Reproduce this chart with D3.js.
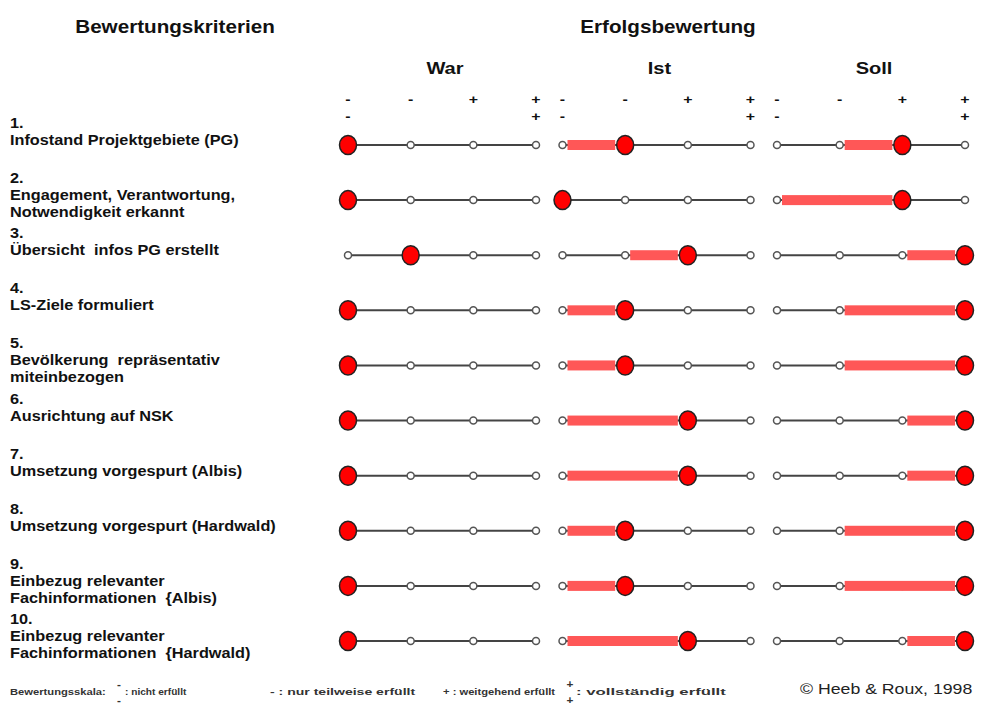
<!DOCTYPE html>
<html>
<head>
<meta charset="utf-8">
<script src="https://cdn.jsdelivr.net/npm/d3@7"></script>
<style>
  body { margin: 0; background: #fff; }
  text { font-family: "Liberation Sans", Arial, sans-serif; white-space: pre; }
</style>
</head>
<body>
<div id="chart"></div>
<script>
// criteria: number + one or two lines of label
const criteriaNumbers = ["1.", "2.", "3.", "4.", "5.", "6.", "7.", "8.", "9.", "10."];
const criteriaLabels = [
    ["Infostand Projektgebiete (PG)"],
    ["Engagement, Verantwortung,", "Notwendigkeit erkannt"],
    ["Übersicht  infos PG erstellt"],
    ["LS-Ziele formuliert"],
    ["Bevölkerung  repräsentativ", "miteinbezogen"],
    ["Ausrichtung auf NSK"],
    ["Umsetzung vorgespurt (Albis)"],
    ["Umsetzung vorgespurt (Hardwald)"],
    ["Einbezug relevanter", "Fachinformationen  {Albis)"],
    ["Einbezug relevanter", "Fachinformationen  {Hardwald)"]
];

// ratings on the 4-step scale (0 = nicht erfüllt ... 3 = vollständig erfüllt)
const phases = ["War", "Ist", "Soll"];
const warValues  = [0, 0, 1, 0, 0, 0, 0, 0, 0, 0];
const istValues  = [1, 0, 2, 1, 1, 2, 2, 1, 1, 2];
const sollValues = [2, 2, 3, 3, 3, 3, 3, 3, 3, 3];

// scale header marks
const scaleTopMarks    = ["-", "-", "+", "+"];
const scaleBottomMarks = ["-", "", "", "+"];

// legend
const legendTop    = ["-", "-", "+", "+"];
const legendBottom = ["-", "", "", "+"];
const legendText   = [": nicht erfüllt", ": nur teilweise erfüllt", ": weitgehend erfüllt", ": vollständig erfüllt"];

const W = 981, H = 707;
const STRETCH = 1.18; // the original lettering is wide

const svg = d3.select("#chart").append("svg")
    .attr("width", W)
    .attr("height", H);

// helper: text placed in a horizontally stretched group
function addText(parent, x, y, str, size, weight, anchor, fill) {
    const g = parent.append("g")
        .attr("transform", `translate(${x},${y}) scale(${STRETCH},1)`);
    g.append("text")
        .attr("x", 0)
        .attr("y", 0)
        .attr("dominant-baseline", "central")
        .attr("text-anchor", anchor || "start")
        .attr("font-size", size)
        .attr("font-weight", weight || "bold")
        .attr("fill", fill || "#111")
        .text(str);
    return g;
}

// Scales
const rowY = d3.scalePoint()
    .domain(d3.range(criteriaNumbers.length))
    .range([145, 641]);

const panelStart = d3.scalePoint()
    .domain(phases)
    .range([348, 777]);

const panelWidth = 188;
const xScales = {};
phases.forEach(p => {
    xScales[p] = d3.scaleLinear().domain([0, 3]).range([panelStart(p), panelStart(p) + panelWidth]);
});

const valuesByPhase = { War: warValues, Ist: istValues, Soll: sollValues };
const previousPhase = { Ist: "War", Soll: "Ist" };

// Titles
addText(svg, 175, 27, "Bewertungskriterien", 17.5, "bold", "middle");
addText(svg, 668, 27, "Erfolgsbewertung", 17.5, "bold", "middle");

phases.forEach(p => {
    const x = xScales[p];
    addText(svg, (x.range()[0] + x.range()[1]) / 2 + 3, 68, p, 17, "bold", "middle");

    // scale marks
    scaleTopMarks.forEach((m, i) => {
        if (m) addText(svg, x(i), 99, m, 13.5, "bold", "middle");
    });
    scaleBottomMarks.forEach((m, i) => {
        if (m) addText(svg, x(i), 116, m, 13.5, "bold", "middle");
    });
});

// Criteria labels
criteriaNumbers.forEach((num, i) => {
    const cy = rowY(i);
    addText(svg, 10, cy - 22, num, 13.8, "bold", "start");
    criteriaLabels[i].forEach((line, j) => {
        addText(svg, 10, cy - 5 + j * 17, line, 13.8, "bold", "start");
    });
});

// Rating rows
phases.forEach(p => {
    const x = xScales[p];
    const vals = valuesByPhase[p];
    const panel = svg.append("g").attr("class", "panel-" + p);

    const rows = panel.selectAll("g.row")
        .data(vals.map((v, i) => ({ i, v, prev: previousPhase[p] ? valuesByPhase[previousPhase[p]][i] : v })))
        .enter()
        .append("g")
        .attr("class", "row")
        .attr("transform", d => `translate(0,${rowY(d.i)})`);

    // base line
    rows.append("line")
        .attr("x1", x(0))
        .attr("x2", x(3))
        .attr("y1", 0)
        .attr("y2", 0)
        .attr("stroke", "#444")
        .attr("stroke-width", 2);

    // small scale points
    rows.selectAll("circle.step")
        .data(d => d3.range(4).filter(s => s !== d.v))
        .enter()
        .append("circle")
        .attr("class", "step")
        .attr("cx", s => x(s))
        .attr("cy", 0)
        .attr("r", 3.5)
        .attr("fill", "#fff")
        .attr("stroke", "#555")
        .attr("stroke-width", 1.5);

    // change bar (from previous phase to this one), covers the points it passes
    rows.filter(d => d.v !== d.prev)
        .append("rect")
        .attr("x", d => x(Math.min(d.prev, d.v)) + 5)
        .attr("width", d => x(Math.max(d.prev, d.v)) - x(Math.min(d.prev, d.v)) - 15)
        .attr("y", -5)
        .attr("height", 10)
        .attr("fill", "#ff5757");

    // rating marker
    rows.append("ellipse")
        .attr("cx", d => x(d.v))
        .attr("cy", 0)
        .attr("rx", 8.5)
        .attr("ry", 9.5)
        .attr("fill", "#ff0000")
        .attr("stroke", "#222")
        .attr("stroke-width", 1.5);
});

// Legend
const legend = svg.append("g").attr("class", "legend");
addText(legend, 10, 692, "Bewertungsskala:", 9.5, "bold", "start", "#333");
const legendX = [119, 270, 443, 570];
const legendW = [52, 123, 95, 127]; // text widths before stretching
legendTop.forEach((m, i) => {
    let t;
    if (legendBottom[i]) {
        addText(legend, legendX[i], 684, m, 10, "bold", "middle", "#333");
        addText(legend, legendX[i], 700, legendBottom[i], 10, "bold", "middle", "#333");
        t = addText(legend, legendX[i] + 6, 692, legendText[i], 9.5, "bold", "start", "#333");
    } else {
        t = addText(legend, legendX[i], 692, m + " " + legendText[i], 9.5, "bold", "start", "#333");
    }
    t.select("text")
        .attr("textLength", legendW[i])
        .attr("lengthAdjust", "spacingAndGlyphs");
});

addText(svg, 800, 689, "© Heeb & Roux, 1998", 15, "normal", "start", "#222");
</script>
</body>
</html>
